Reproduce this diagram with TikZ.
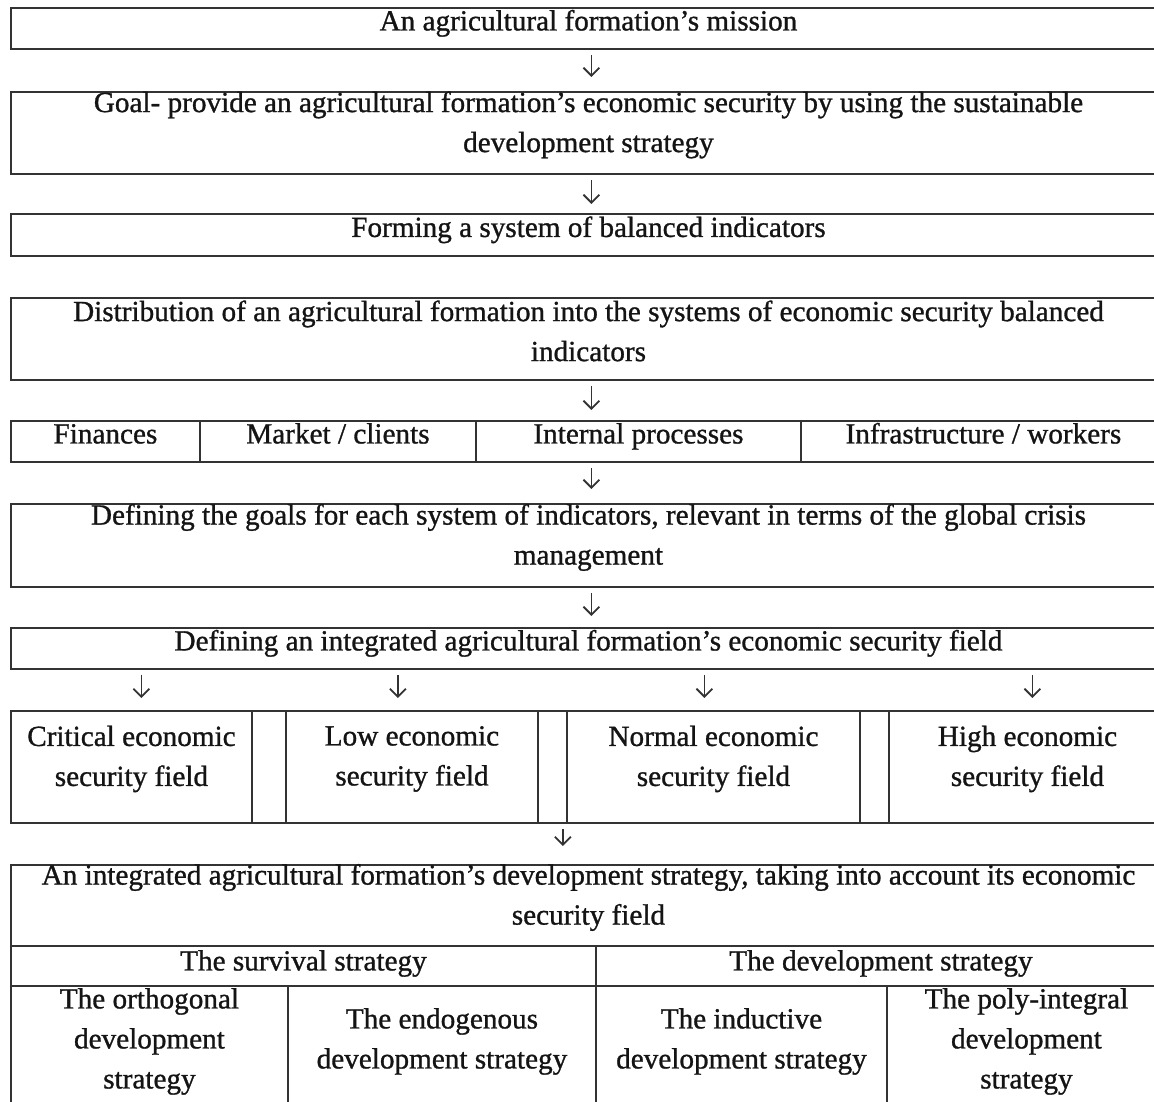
\documentclass[tikz,border=0pt]{standalone}
\usepackage{fontspec}
\setmainfont{Liberation Serif}[FakeBold=1]
\usetikzlibrary{arrows.meta, positioning, calc}
\definecolor{boxLine}{HTML}{333333}
\definecolor{inkText}{HTML}{141414}

\begin{document}
\begin{tikzpicture}[
    box/.style={draw=boxLine, line width=0.95pt, anchor=north west, inner sep=0pt},
    txt/.style={align=center, text=inkText, inner sep=0pt, font=\fontsize{14.6}{20}\selectfont},
    oneline/.style={txt, text height=10pt, text depth=3pt},
    arr/.style={-{Straight Barb[length=4pt,width=8pt]}, line width=0.9pt, boxLine, shorten <=2.5pt, shorten >=7pt},
]
    \useasboundingbox (0,0) rectangle (577pt,-550.5pt);
    \clip (0,0) rectangle (577pt,-550.5pt);

    % single column of steps
    \node[box, minimum width=577.5pt, minimum height=20.5pt] (mission) at (5pt,-3.5pt) {};
    \node[box, minimum width=577.5pt, minimum height=41pt] (goal) at (5pt,-45.5pt) {};
    \node[box, minimum width=577.5pt, minimum height=21pt] (forming) at (5pt,-106.5pt) {};
    \node[box, minimum width=577.5pt, minimum height=41pt] (distrib) at (5pt,-148.5pt) {};

    \node[oneline] (missionT) at ([yshift=2.5pt]mission.center) {An agricultural formation's mission};
    \node[txt] (goalT) at ([yshift=4pt]goal.center) {Goal- provide an agricultural formation's economic security by using the sustainable\\development strategy};
    \node[oneline] (formingT) at ([yshift=2.5pt]forming.center) {Forming a system of balanced indicators};
    \node[txt] (distribT) at ([yshift=4pt]distrib.center) {Distribution of an agricultural formation into the systems of economic security balanced\\indicators};

    % the four systems of indicators
    \node[box, minimum width=94.5pt, minimum height=20.5pt] (finances) at (5pt,-210pt) {};
    \node[box, minimum width=138pt, minimum height=20.5pt] (market) at (99.5pt,-210pt) {};
    \node[box, minimum width=162.5pt, minimum height=20.5pt] (internal) at (237.5pt,-210pt) {};
    \node[box, minimum width=182.5pt, minimum height=20.5pt] (infra) at (400pt,-210pt) {};

    \node[oneline] (financesT) at ([yshift=2.5pt]finances.center) {Finances};
    \node[oneline] (marketT) at ([yshift=2.5pt]market.center) {Market / clients};
    \node[oneline] (internalT) at ([yshift=2.5pt]internal.center) {Internal processes};
    \node[oneline] (infraT) at ([yshift=2.5pt]infra.center) {Infrastructure / workers};

    \node[box, minimum width=577.5pt, minimum height=41.5pt] (defgoals) at (5pt,-251.5pt) {};
    \node[box, minimum width=577.5pt, minimum height=20.5pt] (deffield) at (5pt,-313.5pt) {};

    \node[txt] (defgoalsT) at ([yshift=4pt]defgoals.center) {Defining the goals for each system of indicators, relevant in terms of the global crisis\\management};
    \node[oneline] (deffieldT) at ([yshift=2.5pt]deffield.center) {Defining an integrated agricultural formation's economic security field};

    % security fields with narrow empty cells between them
    \node[box, minimum width=120.5pt, minimum height=56pt] (critical) at (5pt,-355pt) {};
    \node[box, minimum width=17pt, minimum height=56pt] (gapA) at (125.5pt,-355pt) {};
    \node[box, minimum width=126pt, minimum height=56pt] (low) at (142.5pt,-355pt) {};
    \node[box, minimum width=14.5pt, minimum height=56pt] (gapB) at (268.5pt,-355pt) {};
    \node[box, minimum width=146.5pt, minimum height=56pt] (normal) at (283pt,-355pt) {};
    \node[box, minimum width=14.5pt, minimum height=56pt] (gapC) at (429.5pt,-355pt) {};
    \node[box, minimum width=138.5pt, minimum height=56pt] (high) at (444pt,-355pt) {};

    \node[txt] (criticalT) at ([yshift=4pt]critical.center) {Critical economic\\security field};
    \node[txt] (lowT) at ([yshift=4pt]low.center) {Low economic\\security field};
    \node[txt] (normalT) at ([yshift=4pt]normal.center) {Normal economic\\security field};
    \node[txt] (highT) at ([yshift=4pt]high.center) {High economic\\security field};

    % strategy table
    \node[box, minimum width=577.5pt, minimum height=40.5pt] (intstrat) at (5pt,-432pt) {};
    \node[box, minimum width=292.5pt, minimum height=20pt] (survival) at (5pt,-472.5pt) {};
    \node[box, minimum width=285pt, minimum height=20pt] (devstrat) at (297.5pt,-472.5pt) {};
    \node[box, minimum width=138.5pt, minimum height=63.5pt] (orthogonal) at (5pt,-492.5pt) {};
    \node[box, minimum width=154pt, minimum height=63.5pt] (endogenous) at (143.5pt,-492.5pt) {};
    \node[box, minimum width=145.5pt, minimum height=63.5pt] (inductive) at (297.5pt,-492.5pt) {};
    \node[box, minimum width=139.5pt, minimum height=63.5pt] (polyint) at (443pt,-492.5pt) {};

    \node[txt] (intstratT) at ([yshift=4pt]intstrat.center) {An integrated agricultural formation's development strategy, taking into account its economic\\security field};
    \node[oneline] (survivalT) at ([yshift=1.25pt]survival.center) {The survival strategy};
    \node[oneline] (devstratT) at ([yshift=1.25pt]devstrat.center) {The development strategy};
    \node[txt] (orthogonalT) at ([yshift=4pt]orthogonal.center) {The orthogonal\\development\\strategy};
    \node[txt] (endogenousT) at ([yshift=4pt]endogenous.center) {The endogenous\\development strategy};
    \node[txt] (inductiveT) at ([yshift=4pt]inductive.center) {The inductive\\development strategy};
    \node[txt] (polyintT) at ([yshift=4pt]polyint.center) {The poly-integral\\development\\strategy};

    % arrows
    \draw[arr] ([xshift=1.5pt]mission.south) -- ([xshift=1.5pt]goal.north);
    \draw[arr, shorten >=4.5pt] ([xshift=1.5pt]goal.south) -- ([xshift=1.5pt]forming.north);
    \draw[arr, shorten >=5pt] ([xshift=1.5pt]distrib.south) -- ([xshift=1.5pt]distrib.south |- internal.north);
    \draw[arr] ([xshift=1.5pt]defgoals.north |- internal.south) -- ([xshift=1.5pt]defgoals.north);
    \draw[arr, shorten >=5.5pt] ([xshift=1.5pt]defgoals.south) -- ([xshift=1.5pt]deffield.north);
    \draw[arr, shorten >=6pt] ([xshift=5pt]deffield.south -| critical.north) -- ([xshift=5pt]critical.north);
    \draw[arr, shorten >=6pt] ([xshift=-7pt]deffield.south -| low.north) -- ([xshift=-7pt]low.north);
    \draw[arr, shorten >=6pt] ([xshift=-4.5pt]deffield.south -| normal.north) -- ([xshift=-4.5pt]normal.north);
    \draw[arr, shorten >=6pt] ([xshift=2.5pt]deffield.south -| high.north) -- ([xshift=2.5pt]high.north);
    \draw[arr, shorten >=9pt] ([xshift=-2.5pt]gapB.south east) -- ([xshift=-2.5pt]gapB.south east |- intstrat.north);
\end{tikzpicture}
\end{document}
